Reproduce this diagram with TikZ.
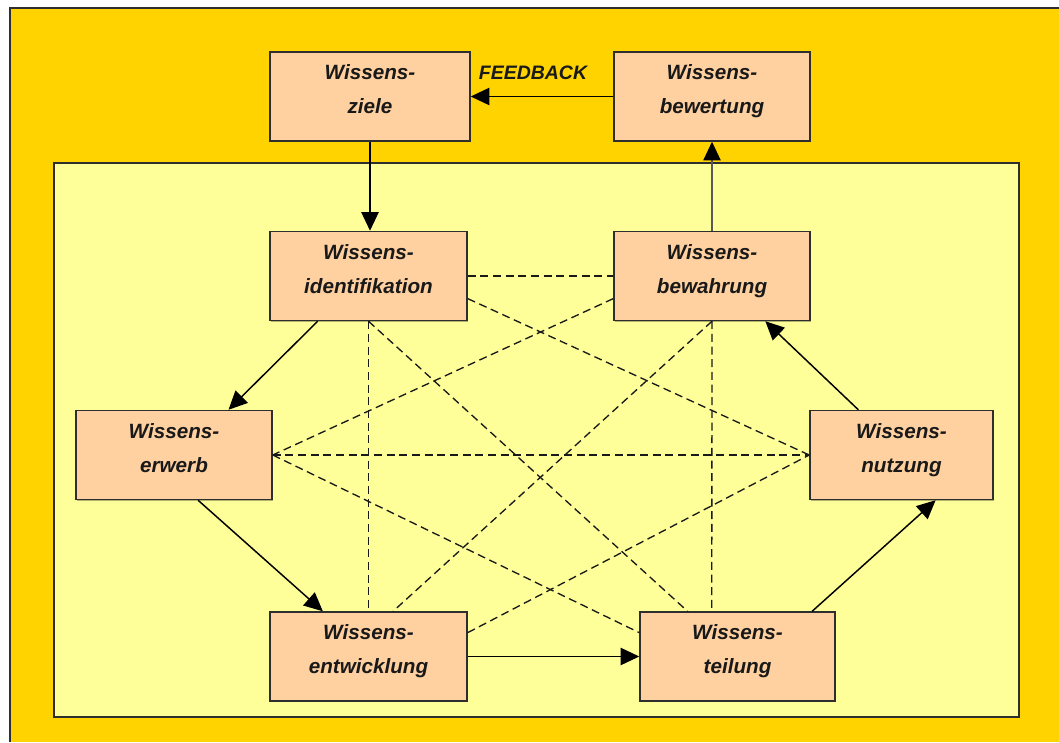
\documentclass[tikz,border=0pt]{standalone}
\usepackage{fontspec}
\setmainfont{Liberation Sans}
\usetikzlibrary{arrows.meta,calc,shadows}
\definecolor{outeryellow}{HTML}{FFD300}
\definecolor{inneryellow}{HTML}{FFFF99}
\definecolor{boxfill}{HTML}{FFD0A0}
\definecolor{edge}{HTML}{2E2E2E}
% symmetric strut: keeps the two text lines centred in each box
\newcommand{\kst}{\rule[-12pt]{0pt}{24pt}}
\begin{document}
\begin{tikzpicture}[x=0.75pt,y=-0.75pt,
  kbox/.style={draw=edge, line width=1.1pt, fill=boxfill, inner sep=0pt,
    minimum width=147.75pt, minimum height=66.75pt,
    align=center, font=\fontsize{15.5}{25.5}\selectfont\bfseries\itshape, text=black!90,
    drop shadow={shadow xshift=1pt, shadow yshift=-1pt, fill=black, opacity=0.3}},
  flow/.style={line width=1.1pt, draw=black, -{Triangle[length=14pt,width=13pt,color=black]}},
  link/.style={line width=1pt, draw=black!90, dash pattern=on 6pt off 3.5pt},
]
\useasboundingbox (0,0) rectangle (1059,742);
\fill[white] (0,0) rectangle (1059,742);
\fill[outeryellow] (10,8) rectangle (1059,742);
\draw[edge, line width=1.1pt] (10,742) -- (10,8) -- (1059,8);

% inner process area
\node[draw=edge, line width=1.1pt, fill=inneryellow, inner sep=0pt,
  minimum width=723.75pt, minimum height=415.5pt,
  drop shadow={shadow xshift=1pt, shadow yshift=-1pt, fill=black, opacity=0.3}]
  (frame) at (536.5,440) {};

% building blocks
\node[kbox, minimum width=150pt] (ziele)     at (370,96.5)    {\kst Wissens-\\\kst ziele};
\node[kbox, minimum width=147pt] (bewertung) at (712,96.5)    {\kst Wissens-\\\kst bewertung};
\node[kbox]                      (ident)     at (368.5,276)   {\kst Wissens-\\\kst identifikation};
\node[kbox, minimum width=147pt] (bewahrung) at (712,276)     {\kst Wissens-\\\kst bewahrung};
\node[kbox, minimum width=147pt] (erwerb)    at (174,455)     {\kst Wissens-\\\kst erwerb};
\node[kbox, minimum width=137.25pt] (nutzung) at (901.5,455)  {\kst Wissens-\\\kst nutzung};
\node[kbox]                      (entw)      at (368.5,656.5) {\kst Wissens-\\\kst entwicklung};
\node[kbox, minimum width=146.25pt] (teilung) at (737.5,656.5) {\kst Wissens-\\\kst teilung};

\node[font=\fontsize{14.6}{17}\selectfont\bfseries\itshape, text=black!90, inner sep=0pt]
  (fb) at (533,73) {FEEDBACK};

% cross links between the building blocks
\draw[link] (ident.east) -- (bewahrung.west);
\draw[link] ($(ident.north east)!0.75!(ident.south east)$) -- (nutzung.west);
\draw[link] (ident.south) -- (entw.north);
\draw[link] (ident.south) -- ($(teilung.north west)!0.246!(teilung.north east)$);
\draw[link] ($(bewahrung.north west)!0.75!(bewahrung.south west)$) -- (erwerb.east);
\draw[link] (bewahrung.south) -- ($(entw.north west)!0.624!(entw.north east)$);
\draw[link] (bewahrung.south) -- ($(teilung.north west)!0.369!(teilung.north east)$);
\draw[link] (erwerb.east) -- (nutzung.west);
\draw[link] (erwerb.east) -- ($(teilung.north west)!0.236!(teilung.south west)$);
\draw[link] ($(entw.north east)!0.236!(entw.south east)$) -- (nutzung.west);

% main cycle
\draw[flow] (ziele.south) -- (ziele.south |- ident.north);
\draw[flow] (bewertung.west) -- (ziele.east);
\draw[flow, draw=black!65, line width=0.9pt] (bewahrung.north) -- (bewertung.south);
\draw[flow] ($(ident.south west)!0.244!(ident.south east)$) -- ($(erwerb.north west)!0.776!(erwerb.north east)$);
\draw[flow] ($(erwerb.south west)!0.622!(erwerb.south east)$) -- ($(entw.north west)!0.27!(entw.north east)$);
\draw[flow] (entw.east) -- (teilung.west);
\draw[flow] ($(teilung.north west)!0.88!(teilung.north east)$) -- ($(nutzung.south west)!0.685!(nutzung.south east)$);
\draw[flow] ($(nutzung.north west)!0.266!(nutzung.north east)$) -- ($(bewahrung.south west)!0.77!(bewahrung.south east)$);
\end{tikzpicture}
\end{document}
